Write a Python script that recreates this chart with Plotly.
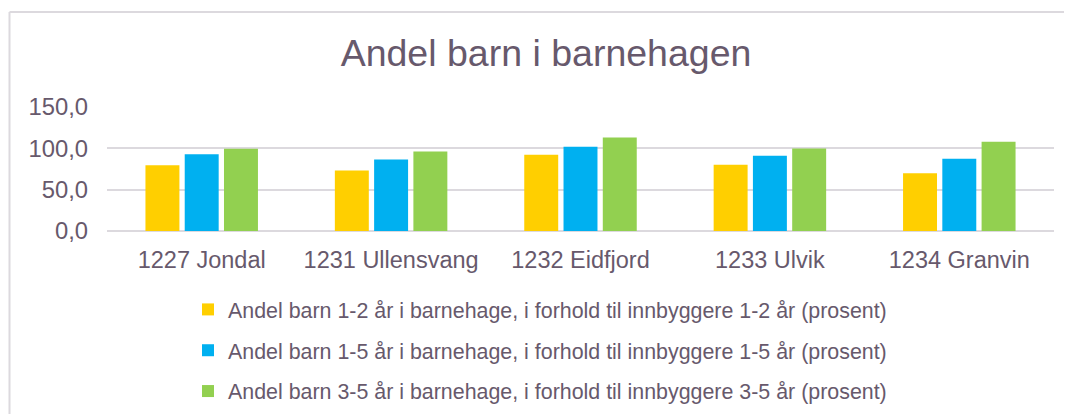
import plotly.graph_objects as go

categories = ["1227 Jondal", "1231 Ullensvang", "1232 Eidfjord", "1233 Ulvik", "1234 Granvin"]
series_names = [
    "Andel barn 1-2 år i barnehage, i forhold til innbyggere 1-2 år (prosent)",
    "Andel barn 1-5 år i barnehage, i forhold til innbyggere 1-5 år (prosent)",
    "Andel barn 3-5 år i barnehage, i forhold til innbyggere 3-5 år (prosent)",
]
values_1_2 = [79.6, 73.2, 92.3, 80.1, 69.9]
values_1_5 = [92.7, 86.6, 102.0, 91.0, 87.4]
values_3_5 = [99.6, 96.3, 113.0, 99.8, 108.0]
colors = ["#FFCF00", "#00B0F0", "#92D050"]
tick_vals = [0, 50, 100, 150]
tick_text = ["0,0", "50,0", "100,0", "150,0"]

TEXT = "#67596C"
GRID = "#DCD9DE"
FONT = "Liberation Sans, Arial, sans-serif"

fig = go.Figure()
for i, (name, vals) in enumerate(zip(series_names, [values_1_2, values_1_5, values_3_5])):
    fig.add_trace(go.Bar(
        x=categories, y=vals, name=name, legendgroup=f"g{i}",
        marker=dict(color=colors[i], line=dict(width=0)),
        hoverinfo="x+y+name",
    ))

# the page has an 8px body margin, so figure pixels = page pixels - 8
W, H = 1064, 406
L, R, T, B = 99, 18, 99, 183
pw, ph = W - L - R, H - T - B

def px_x(p):
    return (p - L) / pw

def px_y(p):
    return (H - B - p) / ph

fig.update_layout(
    width=W, height=H,
    margin=dict(l=L, r=R, t=T, b=B, autoexpand=False),
    paper_bgcolor="white", plot_bgcolor="white",
    font=dict(family=FONT, color=TEXT),
    title=dict(text="Andel barn i barnehagen", font=dict(size=37.5, color=TEXT, family=FONT),
               x=538 / W, xref="container", xanchor="center",
               y=1 - 45 / H, yref="container", yanchor="middle"),
    barmode="group", bargap=0.378, bargroupgap=0.135,
    showlegend=True,
    legend=dict(orientation="v", x=px_x(180), xanchor="left", y=px_y(281), yanchor="top",
                font=dict(size=21.4, color=TEXT, family=FONT), tracegroupgap=10,
                itemwidth=30, bgcolor="rgba(0,0,0,0)"),
    shapes=[
        dict(type="line", xref="paper", yref="paper", x0=px_x(1.5), x1=px_x(1.5), y0=px_y(4), y1=px_y(420),
             line=dict(color=GRID, width=2)),
        dict(type="line", xref="paper", yref="paper", x0=px_x(1.5), x1=px_x(1080), y0=px_y(4), y1=px_y(4),
             line=dict(color=GRID, width=2)),
    ],
)
fig.update_xaxes(showgrid=False, showline=False, zeroline=False, ticks="",
                 tickfont=dict(size=23.5, color=TEXT, family=FONT), ticklabelstandoff=12)
fig.update_yaxes(range=[0, 150], tickvals=tick_vals, ticktext=tick_text, showgrid=True,
                 gridcolor=GRID, gridwidth=1.5, zeroline=True, zerolinecolor=GRID, zerolinewidth=1.5,
                 showline=False, ticks="", tickfont=dict(size=23.8, color=TEXT, family=FONT),
                 ticklabelstandoff=18)

fig.write_html("out.html")
